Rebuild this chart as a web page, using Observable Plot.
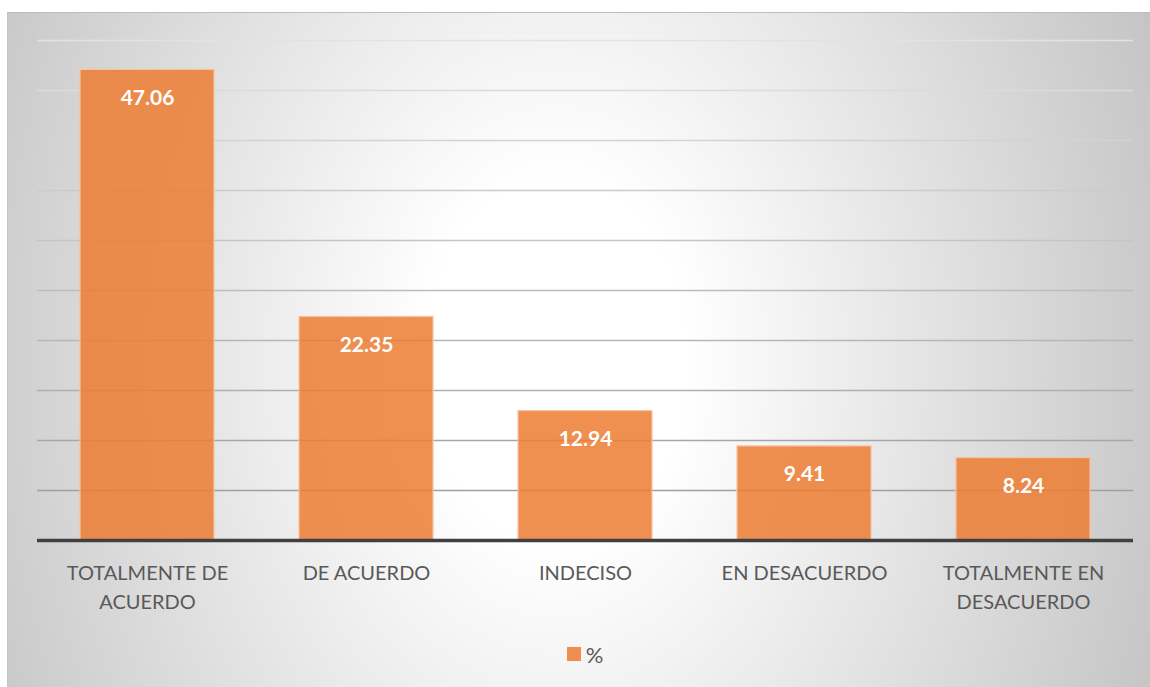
<!DOCTYPE html>
<html>
<head>
<meta charset="utf-8">
<script src="https://cdn.jsdelivr.net/npm/d3@7"></script>
<script src="https://cdn.jsdelivr.net/npm/@observablehq/plot@0.6"></script>
<style>
  html, body { margin: 0; padding: 0; background: #ffffff; width: 1150px; height: 687px; overflow: hidden; }
  #frame {
    position: absolute; left: 7px; top: 12px; width: 1143px; height: 675px;
    box-sizing: border-box; border-top: 1px solid #bdbdbd; border-left: 1px solid #c4c4c4;
    background: radial-gradient(650px 900px at 548px 348px, #ffffff 20%, #c4c4c4 100%);
    font-family: Lato, "Open Sans", sans-serif;
  }
  #legend {
    height: 52px; display: flex; align-items: center; justify-content: center;
    font-family: Lato, sans-serif; font-size: 22px; color: #595959;
    padding-left: 12px;
  }
  #legend .sw { width: 14px; height: 14px; background: #ed7d31; opacity: 0.85; margin-right: 5px; }
</style>
</head>
<body>
<div id="frame"><div id="chart"></div><div id="legend"></div></div>
<script>
const categories = ["TOTALMENTE DE ACUERDO", "DE ACUERDO", "INDECISO", "EN DESACUERDO", "TOTALMENTE EN DESACUERDO"];
const values = [47.06, 22.35, 12.94, 9.41, 8.24];
const tickLabels = ["TOTALMENTE DE\nACUERDO", "DE ACUERDO", "INDECISO", "EN DESACUERDO", "TOTALMENTE EN\nDESACUERDO"];
const gridValues = [5, 10, 15, 20, 25, 30, 35, 40, 45, 50];
const seriesName = "%";

const data = categories.map((c, i) => ({category: c, value: values[i]}));
const labelOf = new Map(categories.map((c, i) => [c, tickLabels[i]]));
const gridColor = d3.scaleLinear().domain([5, 50]).range(["#a0a0a0", "#e2e2e2"]).interpolate(d3.interpolateRgb);

const chart = Plot.plot({
  width: 1142,
  height: 615,
  marginLeft: 29,
  marginRight: 17,
  marginTop: 27,
  marginBottom: 88,
  style: {background: "transparent", fontFamily: "Lato, 'Open Sans', sans-serif", overflow: "visible"},
  x: {domain: categories, paddingInner: 0.39, paddingOuter: 0.195, label: null},
  y: {domain: [0, 50], label: null},
  color: {type: "identity"},
  marks: [
    Plot.ruleY(gridValues, {y: d => d, stroke: d => gridColor(d), strokeWidth: 1.6}),
    Plot.barY(data, {x: "category", y: "value", fill: "#ed7d31", fillOpacity: 0.85, stroke: "#f6c3a0", strokeWidth: 1.2}),
    Plot.ruleY([0], {stroke: "#404040", strokeWidth: 3.5}),
    Plot.text(data, {x: "category", y: "value", text: d => d.value.toFixed(2), dy: 28, fill: "white", fontWeight: "bold", fontSize: 21}),
    Plot.axisX({tickSize: 0, tickPadding: 19, fontSize: 20, lineHeight: 1.45, fill: "#595959", tickFormat: d => labelOf.get(d), label: null}),
    Plot.axisY({ticks: [], label: null})
  ]
});
document.getElementById("chart").appendChild(chart);

const legend = document.getElementById("legend");
const sw = document.createElement("span"); sw.className = "sw";
const lt = document.createElement("span"); lt.textContent = seriesName;
legend.appendChild(sw); legend.appendChild(lt);
</script>
</body>
</html>
